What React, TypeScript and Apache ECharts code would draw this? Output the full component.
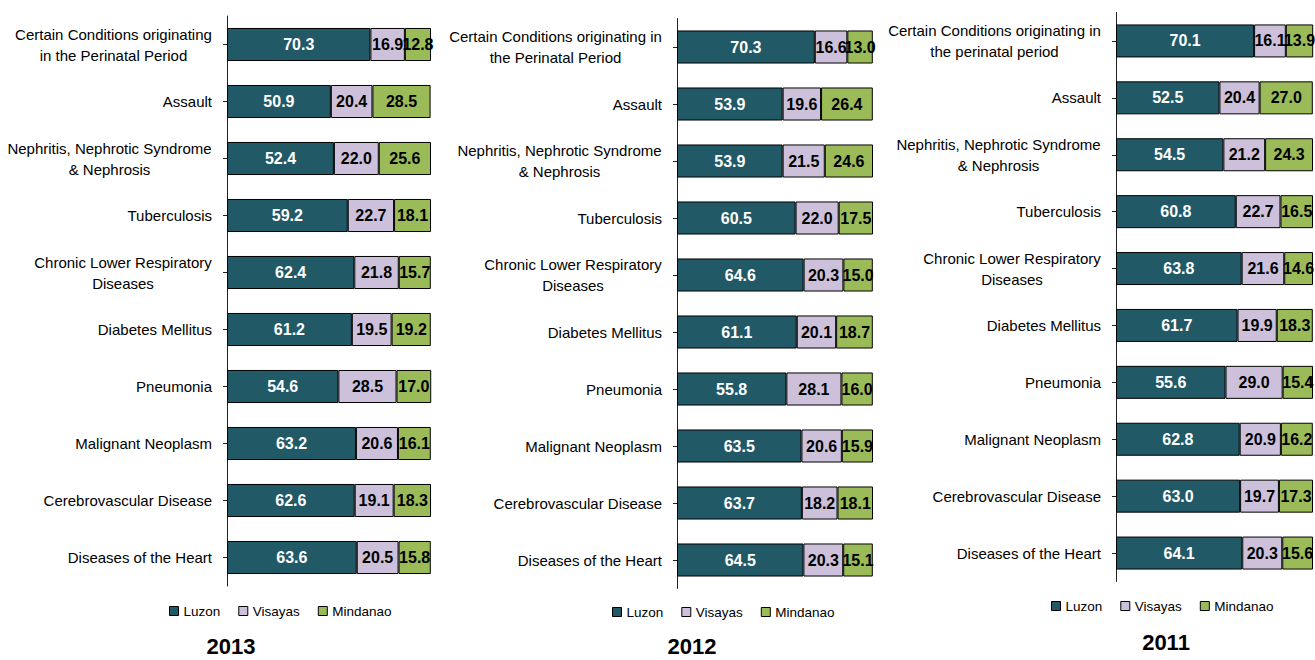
import React, { useEffect, useRef } from "react";
import * as echarts from "echarts";

const FONT = '"Liberation Sans", Arial, sans-serif';

const REGIONS = ["Luzon", "Visayas", "Mindanao"];
const COLORS = ["#215967", "#CCC0DA", "#9BBB59"];

const CATS_2013 = [
  "Certain Conditions originating\nin the Perinatal Period",
  "Assault",
  "Nephritis, Nephrotic Syndrome\n& Nephrosis",
  "Tuberculosis",
  "Chronic Lower Respiratory\nDiseases",
  "Diabetes Mellitus",
  "Pneumonia",
  "Malignant Neoplasm",
  "Cerebrovascular Disease",
  "Diseases of the Heart",
];
const CATS_2012 = [
  "Certain Conditions originating in\nthe Perinatal Period",
  "Assault",
  "Nephritis, Nephrotic Syndrome\n& Nephrosis",
  "Tuberculosis",
  "Chronic Lower Respiratory\nDiseases",
  "Diabetes Mellitus",
  "Pneumonia",
  "Malignant Neoplasm",
  "Cerebrovascular Disease",
  "Diseases of the Heart",
];
const CATS_2011 = [
  "Certain Conditions originating in\nthe perinatal period",
  "Assault",
  "Nephritis, Nephrotic Syndrome\n& Nephrosis",
  "Tuberculosis",
  "Chronic Lower Respiratory\nDiseases",
  "Diabetes Mellitus",
  "Pneumonia",
  "Malignant Neoplasm",
  "Cerebrovascular Disease",
  "Diseases of the Heart",
];

const LUZON_2013 = [70.3, 50.9, 52.4, 59.2, 62.4, 61.2, 54.6, 63.2, 62.6, 63.6];
const VISAYAS_2013 = [16.9, 20.4, 22.0, 22.7, 21.8, 19.5, 28.5, 20.6, 19.1, 20.5];
const MINDANAO_2013 = [12.8, 28.5, 25.6, 18.1, 15.7, 19.2, 17.0, 16.1, 18.3, 15.8];

const LUZON_2012 = [70.3, 53.9, 53.9, 60.5, 64.6, 61.1, 55.8, 63.5, 63.7, 64.5];
const VISAYAS_2012 = [16.6, 19.6, 21.5, 22.0, 20.3, 20.1, 28.1, 20.6, 18.2, 20.3];
const MINDANAO_2012 = [13.0, 26.4, 24.6, 17.5, 15.0, 18.7, 16.0, 15.9, 18.1, 15.1];

const LUZON_2011 = [70.1, 52.5, 54.5, 60.8, 63.8, 61.7, 55.6, 62.8, 63.0, 64.1];
const VISAYAS_2011 = [16.1, 20.4, 21.2, 22.7, 21.6, 19.9, 29.0, 20.9, 19.7, 20.3];
const MINDANAO_2011 = [13.9, 27.0, 24.3, 16.5, 14.6, 18.3, 15.4, 16.2, 17.3, 15.6];

const YEARS = ["2013", "2012", "2011"];

const PANELS = [
  {
    year: YEARS[0],
    cats: CATS_2013,
    values: [LUZON_2013, VISAYAS_2013, MINDANAO_2013],
    grid: { left: 227, top: 16, width: 204, height: 570 },
    legend: { left: 164, top: 599 },
    yearPos: [231, 646],
  },
  {
    year: YEARS[1],
    cats: CATS_2012,
    values: [LUZON_2012, VISAYAS_2012, MINDANAO_2012],
    grid: { left: 677, top: 18.5, width: 196, height: 570 },
    legend: { left: 607, top: 600 },
    yearPos: [692, 646],
  },
  {
    year: YEARS[2],
    cats: CATS_2011,
    values: [LUZON_2011, VISAYAS_2011, MINDANAO_2011],
    grid: { left: 1116, top: 12.5, width: 197, height: 569 },
    legend: { left: 1046, top: 594 },
    yearPos: [1166, 642],
  },
];

const LABEL_SIZE = 15;

function measure(text: string, font: string): number {
  const c = document.createElement("canvas");
  const ctx = c.getContext("2d");
  if (!ctx) return text.length * 7;
  ctx.font = font;
  return ctx.measureText(text).width;
}

function buildLabels(cats: string[], prefix: string) {
  const rich: Record<string, any> = {};
  cats.forEach((c, i) => {
    const lines = c.split("\n");
    if (lines.length > 1) {
      const w = Math.ceil(
        Math.max(...lines.map((l) => measure(l, `${LABEL_SIZE}px ${FONT}`)))
      );
      rich[prefix + i] = {
        width: w,
        align: "center",
        fontSize: LABEL_SIZE,
        fontFamily: FONT,
        color: "#000",
        lineHeight: 21,
      };
    }
  });
  const formatter = (value: string, index: number) => {
    const lines = String(value).split("\n");
    if (lines.length === 1) return value;
    const key = prefix + index;
    return lines.map((l) => `{${key}|${l}}`).join("\n");
  };
  return { rich, formatter };
}

export default function App() {
  const ref = useRef<HTMLDivElement>(null);

  useEffect(() => {
    if (!ref.current) return;
    const chart = echarts.init(ref.current, null, { renderer: "svg" });

    const grids: any[] = [];
    const xAxes: any[] = [];
    const yAxes: any[] = [];
    const series: any[] = [];
    const legends: any[] = [];
    const graphics: any[] = [];

    PANELS.forEach((p, pi) => {
      grids.push({ ...p.grid, containLabel: false });
      xAxes.push({
        type: "value",
        gridIndex: pi,
        min: 0,
        max: 100,
        show: false,
      });
      const lab = buildLabels(p.cats, "p" + pi + "c");
      yAxes.push({
        type: "category",
        gridIndex: pi,
        data: p.cats,
        inverse: true,
        axisLine: { show: true, lineStyle: { color: "#222", width: 1 } },
        axisTick: {
          show: true,
          alignWithLabel: true,
          length: 4,
          lineStyle: { color: "#222" },
        },
        splitLine: { show: false },
        axisLabel: {
          margin: 15,
          fontSize: LABEL_SIZE,
          fontFamily: FONT,
          color: "#000",
          lineHeight: 21,
          align: "right",
          formatter: lab.formatter,
          rich: lab.rich,
        },
      });
      REGIONS.forEach((r, ri) => {
        series.push({
          type: "bar",
          name: r,
          xAxisIndex: pi,
          yAxisIndex: pi,
          stack: "stack" + pi,
          data: p.values[ri],
          barCategoryGap: "42%",
          itemStyle: { color: COLORS[ri], borderColor: "#000", borderWidth: 1 },
          label: {
            show: true,
            position: "inside",
            fontFamily: FONT,
            fontWeight: "bold",
            fontSize: 16,
            color: ri === 0 ? "#fff" : "#000",
            formatter: (d: any) => Number(d.value).toFixed(1),
          },
          emphasis: { disabled: true },
        });
      });
      legends.push({
        data: REGIONS,
        left: p.legend.left,
        top: p.legend.top,
        orient: "horizontal",
        icon: "rect",
        itemWidth: 9,
        itemHeight: 9,
        itemGap: 18,
        selectedMode: false,
        textStyle: { fontSize: 13.5, fontFamily: FONT, color: "#000" },
        itemStyle: { borderColor: "#000", borderWidth: 1 },
      });
      graphics.push({
        type: "text",
        x: p.yearPos[0],
        y: p.yearPos[1],
        style: {
          text: p.year,
          font: `bold 22px ${FONT}`,
          fill: "#000",
          align: "center",
          verticalAlign: "middle",
        },
      });
    });

    chart.setOption({
      animation: false,
      backgroundColor: "#fff",
      grid: grids,
      xAxis: xAxes,
      yAxis: yAxes,
      legend: legends,
      series,
      graphic: graphics,
    });

    return () => chart.dispose();
  }, []);

  return (
    <div
      ref={ref}
      style={{ position: "absolute", left: 0, top: 0, width: 1315, height: 660 }}
    />
  );
}
